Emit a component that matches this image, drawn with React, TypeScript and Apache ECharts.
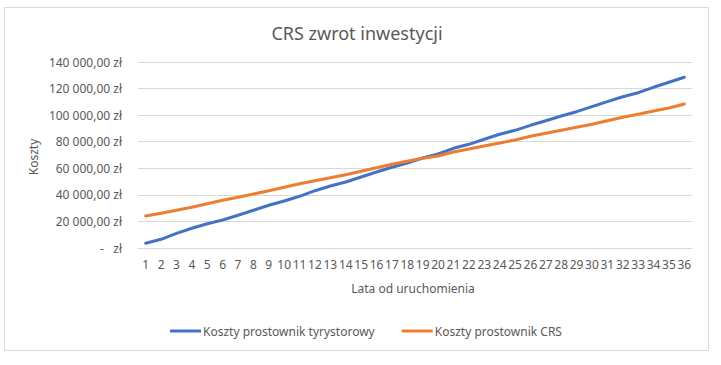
import React, { useEffect, useRef } from "react";
import * as echarts from "echarts";

const years: string[] = Array.from({ length: 36 }, (_, i) => String(i + 1));

const thyristorCosts: number[] = [
  3540, 6550, 11060, 14830, 18290, 21080, 24610, 28380, 32140, 35380,
  38910, 43130, 46670, 49680, 53440, 57210, 60740, 63980, 67740, 70750,
  75040, 78050, 81820, 85580, 88590, 92350, 95820, 99360, 102600, 106360,
  110120, 113880, 116890, 120960, 124720, 128490,
];

const crsCosts: number[] = [
  24090, 26100, 28380, 30630, 33350, 35900, 38160, 40650, 43130, 45690,
  48400, 50660, 52920, 55170, 57730, 60440, 63000, 65260, 67520, 69250,
  72260, 74520, 76780, 79030, 81290, 84070, 86330, 88590, 90850, 93110,
  95820, 98380, 100640, 103120, 105380, 108390,
];

const seriesNames: string[] = ["Koszty prostownik tyrystorowy", "Koszty prostownik CRS"];
const titleText = "CRS zwrot inwestycji";
const xTitle = "Lata od uruchomienia";
const yTitle = "Koszty";

const FONT = "'Noto Sans', sans-serif";
const TEXT = "#595959";
const GRID = "#d9d9d9";

function fmt(v: number): string {
  if (v === 0) return "-   zł";
  const s = Math.round(v).toString().replace(/\B(?=(\d{3})+(?!\d))/g, " ");
  return s + ",00 zł";
}

export default function App() {
  const ref = useRef<HTMLDivElement>(null);
  useEffect(() => {
    if (!ref.current) return;
    const chart = echarts.init(ref.current, undefined, { renderer: "svg" });
    chart.setOption({
      animation: false,
      backgroundColor: "#ffffff",
      textStyle: { fontFamily: FONT },
      graphic: [
        {
          type: "rect",
          z: -10,
          shape: { x: 4.5, y: 7.5, width: 704, height: 343 },
          style: { fill: "#ffffff", stroke: GRID, lineWidth: 1 },
        },
        {
          type: "text",
          x: 357,
          y: 33,
          style: {
            text: titleText,
            align: "center",
            verticalAlign: "middle",
            fill: TEXT,
            font: `18px ${FONT}`,
          },
        },
        {
          type: "text",
          x: 33,
          y: 157,
          rotation: Math.PI / 2,
          style: {
            text: yTitle,
            align: "center",
            verticalAlign: "middle",
            fill: TEXT,
            font: `12px ${FONT}`,
          },
        },
        {
          type: "text",
          x: 413,
          y: 288,
          style: {
            text: xTitle,
            align: "center",
            verticalAlign: "middle",
            fill: TEXT,
            font: `12px ${FONT}`,
          },
        },
      ],
      grid: { left: 138, right: 29, top: 62, bottom: 117, containLabel: false },
      legend: {
        left: 165,
        top: 320,
        icon: "rect",
        itemWidth: 31,
        itemHeight: 3,
        itemGap: 27,
        textStyle: { color: TEXT, fontSize: 12, fontFamily: FONT, padding: [0, 0, 0, -3] },
        data: seriesNames,
      },
      xAxis: {
        type: "category",
        data: years,
        boundaryGap: true,
        axisLine: { lineStyle: { color: GRID, width: 1 } },
        axisTick: { show: false },
        axisLabel: { interval: 0, color: TEXT, fontSize: 12, margin: 10, fontFamily: FONT },
      },
      yAxis: {
        type: "value",
        min: 0,
        max: 140000,
        interval: 20000,
        axisLine: { show: false },
        axisTick: { show: false },
        splitLine: { lineStyle: { color: GRID, width: 1 } },
        axisLabel: { color: TEXT, fontSize: 12, margin: 16, fontFamily: FONT, formatter: fmt },
      },
      series: [
        {
          name: seriesNames[0],
          type: "line",
          data: thyristorCosts,
          symbol: "none",
          color: "#4472C4",
          lineStyle: { width: 3, color: "#4472C4", cap: "round", join: "round" },
        },
        {
          name: seriesNames[1],
          type: "line",
          data: crsCosts,
          symbol: "none",
          color: "#ED7D31",
          lineStyle: { width: 3, color: "#ED7D31", cap: "round", join: "round" },
        },
      ],
    });
    return () => chart.dispose();
  }, []);
  return (
    <div
      ref={ref}
      style={{ position: "fixed", left: 0, top: 0, width: 721, height: 365 }}
    />
  );
}
